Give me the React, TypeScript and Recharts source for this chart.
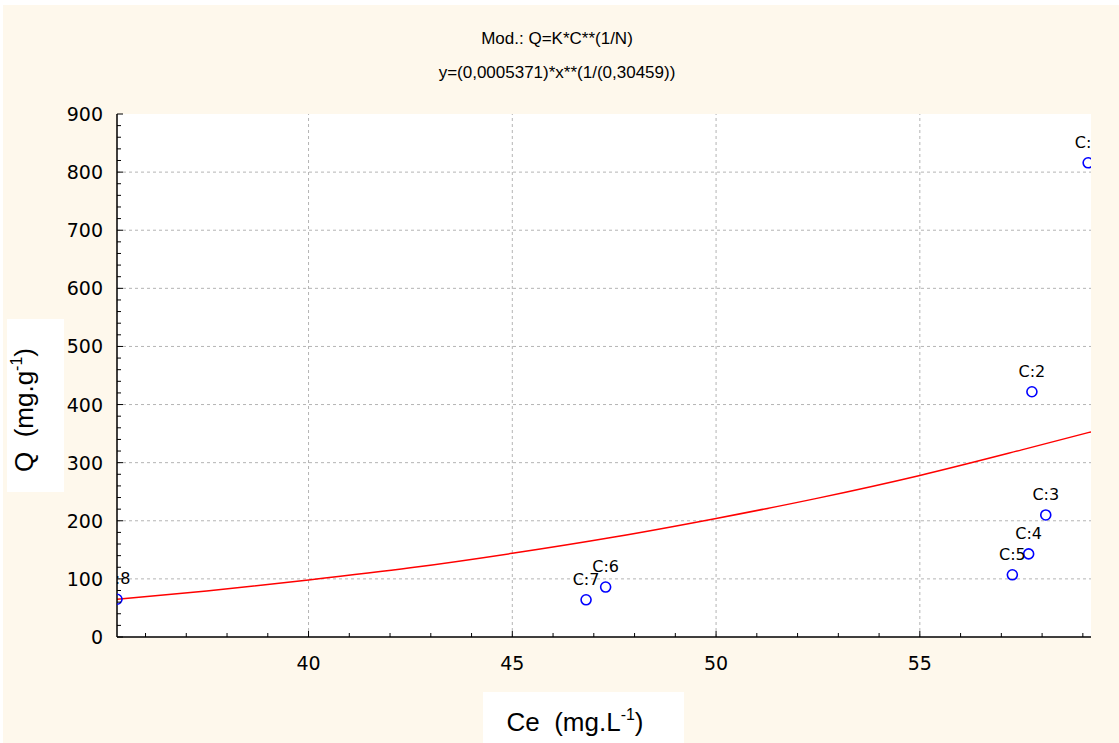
import { ComposedChart, Line, Scatter, XAxis, YAxis, ReferenceLine, CartesianGrid } from "recharts"

// observed points (Ce, Q) with their case labels
const pointLabels = ["C:1", "C:2", "C:3", "C:4", "C:5", "C:6", "C:7", "C:8"]
const ceValues = [59.13, 57.75, 58.09, 57.67, 57.27, 47.29, 46.81, 35.3]
const qValues = [816, 422, 210, 143, 107, 86, 64, 65]

// fitted curve
const fitCe = [35.3, 37.5, 40, 42.5, 45, 47.5, 50, 52.5, 55, 57.5, 59.2]
const fitQ = [65, 79, 98, 119, 144, 172, 204, 239, 278, 322, 353]

const xMajorTicks = [40, 45, 50, 55]
const yMajorTicks = [0, 100, 200, 300, 400, 500, 600, 700, 800, 900]
const xMinorTicks = Array.from({ length: 24 }, (_, i) => 36 + i)
const yMinorTicks = Array.from({ length: 46 }, (_, i) => i * 20)

const FONT = "'DejaVu Sans', 'Liberation Sans', Arial, sans-serif"
const ARIAL = "'Liberation Sans', Arial, sans-serif"
const CREAM = "#fef8ec"

const points = ceValues.map((ce, i) => ({ ce, q: qValues[i], label: pointLabels[i] }))
const fitData = fitCe.map((ce, i) => ({ ce, q: fitQ[i] }))

function BottomTick(props: any) {
  const { x, y, payload } = props
  const major = xMajorTicks.includes(payload.value)
  return (
    <g>
      <line x1={x} x2={x} y1={y} y2={y - (major ? 6 : 4)} stroke="#000" />
      {major && (
        <text x={x} y={y + 33} textAnchor="middle" fontSize={19} fontFamily={FONT} fill="#000">
          {payload.value}
        </text>
      )}
    </g>
  )
}

function TopTick(props: any) {
  const { x, y, payload } = props
  const major = xMajorTicks.includes(payload.value)
  return <line x1={x} x2={x} y1={y} y2={y + (major ? 6 : 4)} stroke="#000" />
}

function LeftTick(props: any) {
  const { x, y, payload } = props
  const major = yMajorTicks.includes(payload.value)
  return (
    <g>
      <line x1={x} x2={x + (major ? 6 : 4)} y1={y} y2={y} stroke="#000" />
      {major && (
        <text x={x - 14} y={y + 7} textAnchor="end" fontSize={19} fontFamily={FONT} fill="#000">
          {payload.value}
        </text>
      )}
    </g>
  )
}

function RightTick(props: any) {
  const { x, y, payload } = props
  const major = yMajorTicks.includes(payload.value)
  return <line x1={x} x2={x - (major ? 6 : 4)} y1={y} y2={y} stroke="#000" />
}

function PointShape(props: any) {
  const { cx, cy, payload } = props
  return (
    <g>
      <circle cx={cx} cy={cy} r={5} fill="none" stroke="#0000ff" strokeWidth={1.6} />
      <text x={cx} y={cy - 15} textAnchor="middle" fontSize={16} fontFamily={FONT} fill="#000">
        {payload.label}
      </text>
    </g>
  )
}

export default function App() {
  return (
    <div style={{ position: "absolute", left: 0, top: 0, width: 1119, height: 743, background: "#fff" }}>
      <div style={{ position: "absolute", left: 3, top: 5, width: 1116, height: 738, background: CREAM }} />
      <div style={{ position: "absolute", left: 0, top: 0 }}>
        <ComposedChart width={1119} height={743} margin={{ top: 114, right: 28, bottom: 0, left: 0 }}>
          <CartesianGrid horizontal={false} vertical={false} fill="#ffffff" fillOpacity={1} />
          <XAxis
            dataKey="ce"
            type="number"
            domain={[35.3, 59.2]}
            allowDataOverflow
            ticks={xMinorTicks}
            interval={0}
            tick={<BottomTick />}
            tickLine={false}
            tickSize={0}
            tickMargin={0}
            height={106}
            axisLine={{ stroke: "#000", strokeWidth: 1.5 }}
          />
          <XAxis
            xAxisId="top"
            orientation="top"
            dataKey="ce"
            type="number"
            domain={[35.3, 59.2]}
            allowDataOverflow
            ticks={xMinorTicks}
            interval={0}
            tick={<TopTick />}
            tickLine={false}
            tickSize={0}
            tickMargin={0}
            height={0}
            axisLine={{ stroke: "#000", strokeWidth: 1.5 }}
          />
          <YAxis
            type="number"
            domain={[0, 900]}
            allowDataOverflow
            ticks={yMinorTicks}
            interval={0}
            tick={<LeftTick />}
            tickLine={false}
            tickSize={0}
            tickMargin={0}
            width={117}
            axisLine={{ stroke: "#000", strokeWidth: 1.5 }}
          />
          <YAxis
            yAxisId="right"
            orientation="right"
            type="number"
            domain={[0, 900]}
            allowDataOverflow
            ticks={yMinorTicks}
            interval={0}
            tick={<RightTick />}
            tickLine={false}
            tickSize={0}
            tickMargin={0}
            width={0}
            axisLine={{ stroke: "#000", strokeWidth: 1.5 }}
          />
          {xMajorTicks.map((v) => (
            <ReferenceLine key={"gx" + v} x={v} stroke="#b4b4b4" strokeDasharray="3 3" />
          ))}
          {yMajorTicks.slice(1, -1).map((v) => (
            <ReferenceLine key={"gy" + v} y={v} stroke="#b4b4b4" strokeDasharray="3 3" />
          ))}
          <Line
            data={fitData}
            dataKey="q"
            xAxisId="top"
            yAxisId="right"
            type="monotone"
            stroke="#ff0000"
            strokeWidth={1.5}
            dot={false}
            isAnimationActive={false}
          />
          <Scatter data={points} dataKey="q" shape={<PointShape />} isAnimationActive={false} />
        </ComposedChart>
      </div>
      <svg
        width={1119}
        height={743}
        style={{ position: "absolute", left: 0, top: 0, pointerEvents: "none" }}
        fontFamily={ARIAL}
      >
        <text x={557} y={44} textAnchor="middle" fontSize={17} fill="#000">
          Mod.: Q=K*C**(1/N)
        </text>
        <text x={557} y={78} textAnchor="middle" fontSize={17} fill="#000">
          y=(0,0005371)*x**(1/(0,30459))
        </text>
        <rect x={7} y={319} width={57} height={173} fill="#fff" />
        <text
          transform="translate(33,410) rotate(-90)"
          textAnchor="middle"
          fontSize={26}
          fill="#000"
          style={{ whiteSpace: "pre" }}
        >
          {"Q  (mg.g"}
          <tspan fontSize={16} dy={-11}>-1</tspan>
          <tspan dy={11}>)</tspan>
        </text>
        <rect x={483} y={692} width={201} height={51} fill="#fff" />
        <text x={575} y={731} textAnchor="middle" fontSize={26} fill="#000" style={{ whiteSpace: "pre" }}>
          {"Ce  (mg.L"}
          <tspan fontSize={16} dy={-11}>-1</tspan>
          <tspan dy={11}>)</tspan>
        </text>
      </svg>
    </div>
  )
}
